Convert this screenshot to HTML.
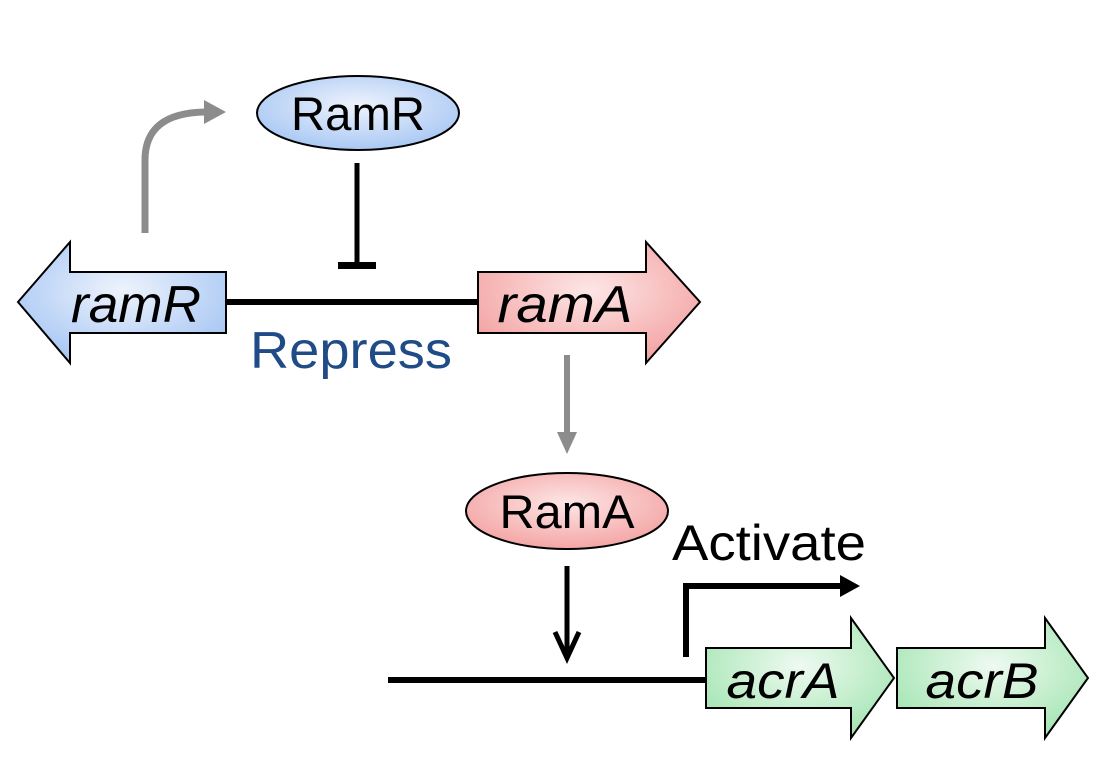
<!DOCTYPE html>
<html><head><meta charset="utf-8"><style>
html,body{margin:0;padding:0;background:#fff;}
svg{display:block;}
text{font-family:"Liberation Sans",Arial,sans-serif;}
</style></head><body>
<svg width="1096" height="766" viewBox="0 0 1096 766" xmlns="http://www.w3.org/2000/svg">
<defs>
<radialGradient id="gb" cx="0.5" cy="0.4" r="0.6"><stop offset="0" stop-color="#eef3fc"/><stop offset="1" stop-color="#a9c8f4"/></radialGradient>
<radialGradient id="gr" cx="0.5" cy="0.4" r="0.6"><stop offset="0" stop-color="#fde6e6"/><stop offset="1" stop-color="#f4a5a5"/></radialGradient>
<radialGradient id="gg" cx="0.5" cy="0.4" r="0.6"><stop offset="0" stop-color="#eefaf0"/><stop offset="1" stop-color="#a8e6b6"/></radialGradient>
</defs>
<path d="M145,233 L145,160 Q145,113 205,112" fill="none" stroke="#8c8c8c" stroke-width="7"/>
<polygon points="204,100 226,112 204,124" fill="#8c8c8c"/>
<ellipse cx="358" cy="113" rx="101" ry="37" fill="url(#gb)" stroke="#000" stroke-width="2"/>
<text x="358" y="130" font-size="47" text-anchor="middle" textLength="134" lengthAdjust="spacingAndGlyphs">RamR</text>
<line x1="357" y1="163" x2="357" y2="267" stroke="#000" stroke-width="5"/>
<rect x="338" y="262" width="38" height="7" fill="#000"/>
<line x1="222" y1="302" x2="478" y2="302" stroke="#000" stroke-width="6"/>
<polygon points="226,272 226,333 70,333 70,363 18,302 70,242 70,272" fill="url(#gb)" stroke="#000" stroke-width="2"/>
<text x="136" y="322" font-size="52" font-style="italic" text-anchor="middle" textLength="130" lengthAdjust="spacingAndGlyphs">ramR</text>
<polygon points="478,272 478,333 646,333 646,363 700,302 646,242 646,272" fill="url(#gr)" stroke="#000" stroke-width="2"/>
<text x="565" y="322" font-size="52" font-style="italic" text-anchor="middle" textLength="135" lengthAdjust="spacingAndGlyphs">ramA</text>
<text x="351" y="368" font-size="52" fill="#1f4b87" text-anchor="middle" textLength="202" lengthAdjust="spacingAndGlyphs">Repress</text>
<line x1="567" y1="355" x2="567" y2="434" stroke="#8c8c8c" stroke-width="6"/>
<polygon points="557,432 577,432 567,454" fill="#8c8c8c"/>
<ellipse cx="567" cy="511" rx="101" ry="38" fill="url(#gr)" stroke="#000" stroke-width="2"/>
<text x="567" y="528" font-size="47" text-anchor="middle" textLength="135" lengthAdjust="spacingAndGlyphs">RamA</text>
<line x1="567" y1="566" x2="567" y2="656" stroke="#000" stroke-width="5"/>
<polyline points="555,632 567,658 579,632" fill="none" stroke="#000" stroke-width="5"/>
<line x1="388" y1="680" x2="706" y2="680" stroke="#000" stroke-width="6"/>
<text x="769" y="560" font-size="50" text-anchor="middle" textLength="194" lengthAdjust="spacingAndGlyphs">Activate</text>
<polyline points="686,657 686,586 842,586" fill="none" stroke="#000" stroke-width="6"/>
<polygon points="840,575 860,586 840,597" fill="#000"/>
<polygon points="706,648 851,648 851,618 894,678 851,738 851,708 706,708" fill="url(#gg)" stroke="#000" stroke-width="2"/>
<text x="783" y="698" font-size="50" font-style="italic" text-anchor="middle" textLength="113" lengthAdjust="spacingAndGlyphs">acrA</text>
<polygon points="897,648 1045,648 1045,618 1088,678 1045,738 1045,708 897,708" fill="url(#gg)" stroke="#000" stroke-width="2"/>
<text x="982" y="698" font-size="50" font-style="italic" text-anchor="middle" textLength="113" lengthAdjust="spacingAndGlyphs">acrB</text>
</svg>
</body></html>
